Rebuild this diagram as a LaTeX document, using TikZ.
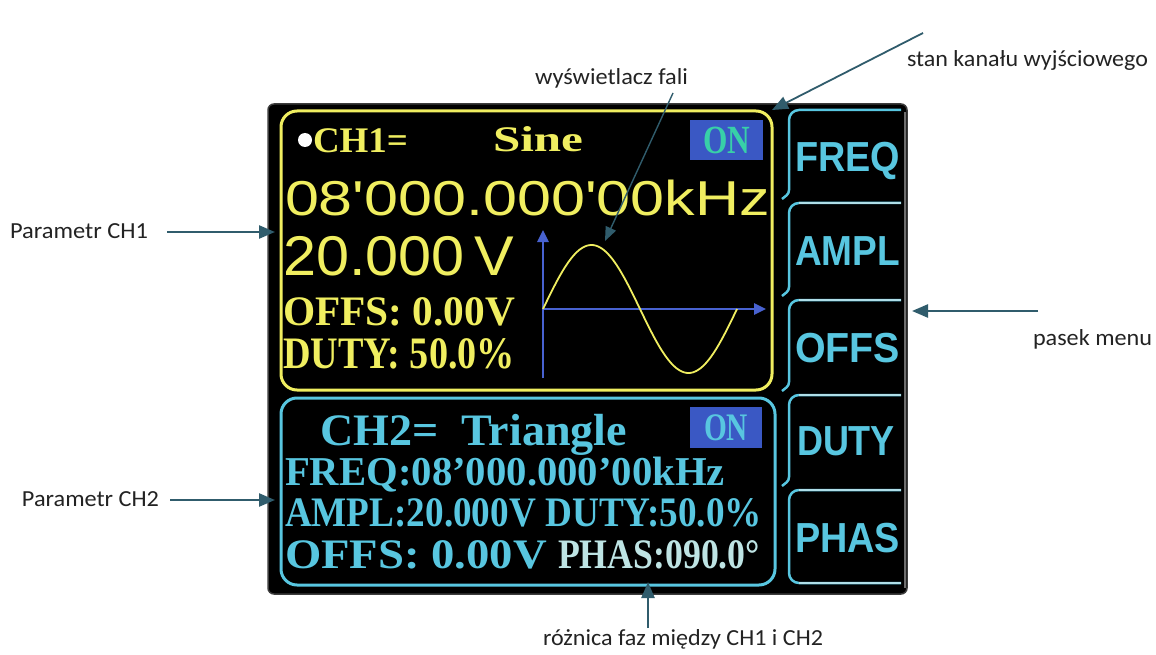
\documentclass[tikz,border=0pt]{standalone}
\usepackage{fontspec}
\setmainfont{Liberation Serif}
\newfontfamily\annf{Carlito}
\newfontfamily\lcdsans{Liberation Sans}[Ligatures=TeXOff]
\newfontfamily\lcdserif{Liberation Serif Bold}
\usetikzlibrary{arrows.meta}
\definecolor{yel}{RGB}{240,238,96}
\definecolor{cyn}{RGB}{88,198,224}
\definecolor{cynlt}{RGB}{175,222,232}
\definecolor{phas}{RGB}{190,228,228}
\definecolor{onblue}{RGB}{58,88,196}
\definecolor{ongreen}{RGB}{56,208,168}
\definecolor{axblue}{RGB}{72,98,208}
\definecolor{arr}{RGB}{48,92,108}
\definecolor{anntext}{RGB}{35,35,35}
\definecolor{scrborder}{RGB}{60,60,60}
\definecolor{rimgrey}{RGB}{110,110,110}
\newcommand{\fw}[2]{\resizebox{#1pt}{\height}{#2}}
\tikzset{
  txt/.style={anchor=base west, inner sep=0pt, outer sep=0pt},
  anntxt/.style={txt, text=anntext, font=\annf\fontsize{23}{27}\selectfont},
  ann/.style={draw=arr, line width=2.4pt, -{Triangle[length=16pt,width=13pt]}},
  annthin/.style={draw=arr, line width=1.4pt, -{Triangle[length=14pt,width=11pt]}},
  screenbox/.style={fill=black, draw=scrborder, line width=1.5pt, rounded corners=6pt, inner sep=0pt},
  chbox/.style={line width=3pt, rounded corners=16pt, inner sep=0pt},
  onbox/.style={fill=onblue, inner sep=0pt},
  btnline/.style={draw=cyn, line width=2.5pt},
  sepline/.style={draw=cynlt, line width=2.5pt},
  axis/.style={draw=axblue, line width=2.6pt, -{Triangle[length=12pt,width=11pt]}},
  ylwtxt/.style={txt, text=yel},
  cyntxt/.style={txt, text=cyn},
  menutxt/.style={txt, text=cyn, font=\lcdsans\bfseries\fontsize{42}{46}\selectfont},
}
\begin{document}
\begin{tikzpicture}[x=1pt,y=-1pt]
\useasboundingbox (0,0) rectangle (1156,655);
\fill[white] (0,0) rectangle (1156,655);

% screen and channel boxes
\node[screenbox, minimum width=639pt, minimum height=490pt] (screen) at (587.5,349) {};
\draw[rimgrey, line width=1.5pt] (905,112) -- (905,588);
\node[chbox, draw=yel, minimum width=491pt, minimum height=279pt] (ch1) at (526.5,250.5) {};
\node[chbox, draw=cyn, minimum width=494pt, minimum height=187pt] (ch2) at (528,491.5) {};

% menu buttons
\foreach \t/\b in {110/203, 203/300, 300/395, 395/490} {
  \draw[btnline] (901,\t) -- (799,\t) to[out=180,in=90] (789,{\t+10}) -- (789,{\b-13}) to[out=-90,in=40] (782,{\b-4});
}
\draw[btnline] (901,490) -- (799,490) to[out=180,in=90] (789,500) -- (789,573) to[out=-90,in=180] (799,583) -- (901,583);
\foreach \s in {203,300,395,490,583} {
  \draw[sepline] (799,\s) -- (901,\s);
}
\node[menutxt] (mfreq) at (795,172) {\fw{105}{FREQ}};
\node[menutxt] (mampl) at (795,265) {\fw{105}{AMPL}};
\node[menutxt] (moffs) at (795,362) {\fw{105}{OFFS}};
\node[menutxt] (mduty) at (797,455) {\fw{98}{DUTY}};
\node[menutxt] (mphas) at (795,552) {\fw{105}{PHAS}};

% CH1 content
\fill[white] (305,140) circle (7pt);
\node[ylwtxt, font=\lcdserif\fontsize{36}{40}\selectfont] (c1name) at (313,153) {\fw{95}{CH1=}};
\node[ylwtxt, font=\lcdserif\fontsize{36}{40}\selectfont] (c1sine) at (493,152) {\fw{90}{Sine}};
\node[onbox, minimum width=73pt, minimum height=40pt, text=ongreen, font=\lcdserif\fontsize{40}{44}\selectfont] (on1) at (726.5,140) {\fw{47}{ON}};
\node[ylwtxt, font=\lcdsans\fontsize{49}{54}\selectfont] (c1freq) at (285,215) {\fw{485}{08'000.000'00kHz}};
\node[ylwtxt, font=\lcdsans\fontsize{56}{60}\selectfont] (c1ampl) at (283,275) {\fw{231}{20.000\,V}};
\node[ylwtxt, font=\lcdserif\fontsize{42}{46}\selectfont] (c1offs) at (283,325) {\fw{232}{OFFS: 0.00V}};
\node[ylwtxt, font=\lcdserif\fontsize{45}{50}\selectfont] (c1duty) at (283,368) {\fw{232}{DUTY: 50.0\%}};

% waveform
\draw[axis] (543,378) -- (543,230);
\draw[axis] (543,309) -- (766,309);
\draw[yel, line width=1.8pt] plot[domain=0:360, samples=120] ({543+0.53889*\x},{309-64*sin(\x)});

% CH2 content
\node[cyntxt, font=\lcdserif\fontsize{45}{50}\selectfont] (c2name) at (320,445) {\fw{307}{CH2=\ \ Triangle}};
\node[onbox, minimum width=72pt, minimum height=41pt, text=cyn, font=\lcdserif\fontsize{39}{44}\selectfont] (on2) at (726,427.5) {\fw{44}{ON}};
\node[cyntxt, font=\lcdserif\fontsize{41}{46}\selectfont] (c2freq) at (285,485) {\fw{440}{FREQ:08’000.000’00kHz}};
\node[cyntxt, font=\lcdserif\fontsize{42}{46}\selectfont] (c2ampl) at (285,526) {\fw{477}{AMPL:20.000V DUTY:50.0\%}};
\node[cyntxt, font=\lcdserif\fontsize{42}{46}\selectfont] (c2offs) at (285,568) {\fw{262}{OFFS: 0.00V}};
\node[txt, text=phas, font=\lcdserif\fontsize{42}{46}\selectfont] (c2phas) at (558,568) {\fw{202}{PHAS:090.0°}};

% annotations
\node[anntxt] (p1) at (10,238) {\fw{138}{Parametr CH1}};
\node[anntxt] (p2) at (22,506) {\fw{137}{Parametr CH2}};
\node[anntxt] (wf) at (535,85) {\fw{153}{wyświetlacz fali}};
\node[anntxt] (sk) at (907,67) {\fw{241}{stan kanału wyjściowego}};
\node[anntxt] (pm) at (1033,345) {\fw{119}{pasek menu}};
\node[anntxt] (rf) at (543,645) {\fw{280}{różnica faz między CH1 i CH2}};

\coordinate (p1s) at (167,232); \coordinate (p1e) at (275,232);
\coordinate (p2s) at (170,500); \coordinate (p2e) at (275,500);
\coordinate (wfs) at (673,93);  \coordinate (wfe) at (605,241);
\coordinate (sks) at (923,33);  \coordinate (ske) at (772,110);
\coordinate (pms) at (1038,311); \coordinate (pme) at (912,311);
\coordinate (rfs) at (648,628); \coordinate (rfe) at (648,582);

\draw[ann] (p1s) -- (p1e);
\draw[ann] (p2s) -- (p2e);
\draw[annthin] (wfs) -- (wfe);
\draw[ann, line width=1.8pt] (sks) -- (ske);
\draw[ann] (pms) -- (pme);
\draw[ann] (rfs) -- (rfe);
\end{tikzpicture}
\end{document}
